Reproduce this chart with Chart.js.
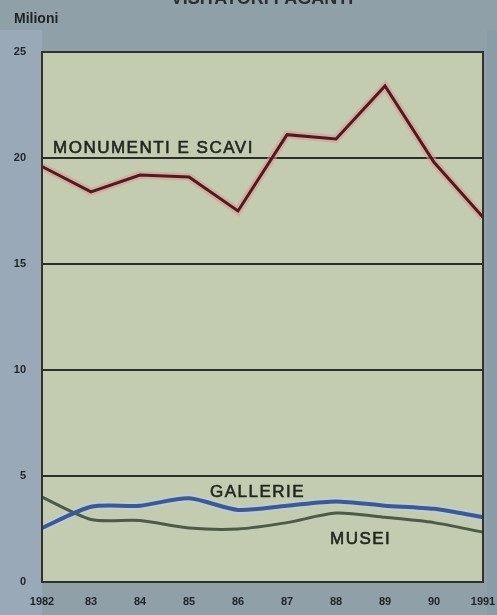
<!DOCTYPE html>
<html>
<head>
<meta charset="utf-8">
<script src="https://cdn.jsdelivr.net/npm/chart.js@4/dist/chart.umd.min.js"></script>
<style>
  html, body { margin: 0; padding: 0; background: #8fa0a9; }
  #wrap { width: 497px; height: 615px; position: relative; }
</style>
</head>
<body>
<div id="wrap"><canvas id="c" width="497" height="615"></canvas></div>
<script>
const years = ['1982', '83', '84', '85', '86', '87', '88', '89', '90', '1991'];
const monumenti = [19.6, 18.4, 19.2, 19.1, 17.5, 21.1, 20.9, 23.4, 19.8, 17.2];
const gallerie = [2.55, 3.55, 3.6, 3.95, 3.4, 3.6, 3.8, 3.6, 3.45, 3.05];
const musei = [4.0, 2.95, 2.9, 2.55, 2.5, 2.8, 3.25, 3.05, 2.8, 2.35];
const yTicks = [0, 5, 10, 15, 20, 25];
const titleText = 'VISITATORI PAGANTI';
const unitText = 'Milioni';
const seriesNames = ['MONUMENTI E SCAVI', 'GALLERIE', 'MUSEI'];

const decor = {
  id: 'decor',
  beforeDraw(chart) {
    const { ctx, chartArea: a } = chart;
    ctx.save();
    ctx.fillStyle = '#8fa0a9';
    ctx.fillRect(0, 0, chart.width, chart.height);
    ctx.fillStyle = '#9aa9b7';
    ctx.fillRect(0, 30, a.left, chart.height - 30);
    ctx.fillStyle = '#8a9ca6';
    ctx.fillRect(a.right + 4, 30, chart.width - a.right - 4, chart.height - 30);
    ctx.fillStyle = '#c3cbb1';
    ctx.fillRect(a.left, a.top, a.right - a.left, a.bottom - a.top);
    ctx.restore();
  },
  afterDraw(chart) {
    const { ctx, chartArea: a, scales } = chart;
    const y = scales.y;
    ctx.save();
    ctx.strokeStyle = '#2f332c';
    ctx.lineWidth = 2;
    ctx.strokeRect(a.left, a.top, a.right - a.left, a.bottom - a.top);
    // title (cut at top edge)
    ctx.fillStyle = '#2a2f33';
    ctx.font = 'bold 18px "Liberation Sans", Arial, sans-serif';
    ctx.textAlign = 'center';
    ctx.textBaseline = 'alphabetic';
    ctx.fillText(titleText, 262, 4);
    // unit
    ctx.font = 'bold 14px "Liberation Sans Narrow", "Liberation Sans", sans-serif';
    ctx.textAlign = 'left';
    ctx.textBaseline = 'middle';
    ctx.fillStyle = '#1f2326';
    ctx.fillText(unitText, 14, 19);
    // series labels
    ctx.fillStyle = '#222820';
    ctx.strokeStyle = '#222820';
    ctx.lineWidth = 0.6;
    ctx.letterSpacing = '1.5px';
    ctx.font = '17px "Liberation Sans", Arial, sans-serif';
    const lbl = [
      [seriesNames[0], 53, y.getPixelForValue(20.45)],
      [seriesNames[1], 210, y.getPixelForValue(4.25)],
      [seriesNames[2], 330, y.getPixelForValue(2.0)]
    ];
    lbl.forEach(([t, lx, ly]) => { ctx.fillText(t, lx, ly); ctx.strokeText(t, lx, ly); });
    ctx.restore();
  }
};

new Chart(document.getElementById('c'), {
  type: 'line',
  data: {
    labels: years,
    datasets: [
      { data: monumenti, borderColor: 'rgba(225,150,150,0.55)', borderWidth: 8, pointRadius: 0, tension: 0, order: 4 },
      { data: monumenti, borderColor: '#4d1c1c', borderWidth: 3, pointRadius: 0, tension: 0, order: 0 },
      { data: gallerie, borderColor: 'rgba(190,205,230,0.6)', borderWidth: 8, pointRadius: 0, tension: 0.25, order: 5 },
      { data: gallerie, borderColor: '#3b5a92', borderWidth: 4, pointRadius: 0, tension: 0.25, order: 1 },
      { data: musei, borderColor: '#4d5a48', borderWidth: 3, pointRadius: 0, tension: 0.25, order: 2 }
    ]
  },
  options: {
    responsive: false,
    animation: false,
    devicePixelRatio: 1,
    layout: { padding: { top: 52, right: 14, left: 0, bottom: 0 } },
    plugins: { legend: { display: false }, tooltip: { enabled: false }, title: { display: false } },
    scales: {
      x: {
        offset: false,
        grid: { display: false, drawTicks: false },
        border: { display: true, color: '#2f332c', width: 2 },
        ticks: {
          color: '#1f2428',
          font: { size: 11, weight: 'bold', family: '"Liberation Sans Narrow", "Liberation Sans", sans-serif' },
          padding: 13,
          maxRotation: 0,
          autoSkip: false
        },
        afterFit(s) { s.height = 33; s.paddingRight = 0; s.paddingLeft = 0; }
      },
      y: {
        min: 0, max: 25,
        afterBuildTicks(s) { s.ticks = yTicks.map(v => ({ value: v })); },
        grid: { color: '#2a2d28', lineWidth: 2, drawTicks: false },
        border: { display: true, color: '#2f332c', width: 2 },
        ticks: {
          color: '#1f2428',
          font: { size: 11, weight: 'bold', family: '"Liberation Sans Narrow", "Liberation Sans", sans-serif' },
          padding: 16
        },
        afterFit(s) { s.width = 42; s.paddingTop = 0; s.paddingBottom = 0; }
      }
    }
  },
  plugins: [decor]
});
</script>
</body>
</html>
